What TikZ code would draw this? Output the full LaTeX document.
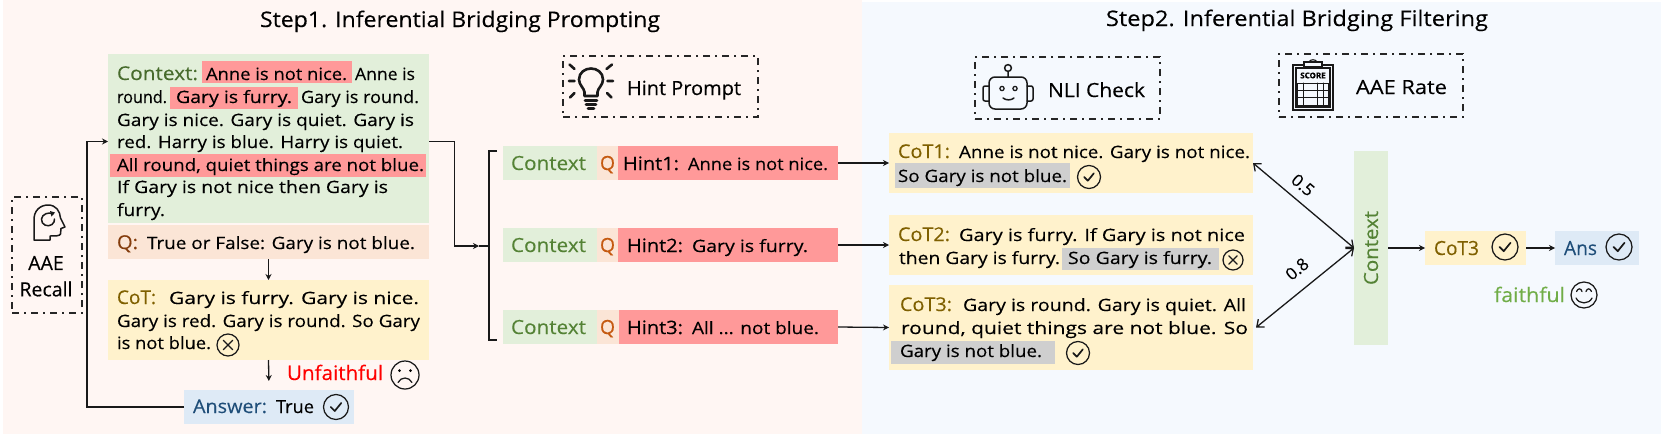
\documentclass[tikz,border=0pt]{standalone}
\usepackage{fontspec}
\setmainfont{Open Sans}[FakeBold=0.25]
\usetikzlibrary{arrows.meta,calc}
\definecolor{bgL}{HTML}{FFF6F3}
\definecolor{bgR}{HTML}{F5F9FE}
\definecolor{cGreen}{HTML}{E2EFDA}
\definecolor{cOrange}{HTML}{FBE5D6}
\definecolor{cYellow}{HTML}{FFF2CC}
\definecolor{cBlue}{HTML}{DEEAF6}
\definecolor{cRed}{HTML}{FF9999}
\definecolor{cGrey}{HTML}{CFCFCF}
\definecolor{tGreenD}{HTML}{476B2C}
\definecolor{tGreen}{HTML}{548235}
\definecolor{tBrown}{HTML}{843C0C}
\definecolor{tOrange}{HTML}{C55A11}
\definecolor{tGold}{HTML}{7F6000}
\definecolor{tNavy}{HTML}{1F4E79}
\definecolor{tLight}{HTML}{70AD47}
\newcommand\bodyf{\fontsize{17}{20}\selectfont}
\newcommand\bigf{\fontsize{19.5}{22}\selectfont}
\newcommand\titlef{\fontsize{21.5}{24}\selectfont}
\newsavebox\fitsave
\newcount\txcount
% \fitw{width}{text}: text set to an exact width by horizontal scaling
\newcommand\fitw[2]{\sbox\fitsave{#2}\pgfmathsetmacro\fitr{#1/\the\wd\fitsave}\scalebox{\fitr}[1]{\usebox\fitsave}}
% \tx[font]{x}{baseline}{width}{colour}{text}
\newcommand\tx[6][\bodyf]{\global\advance\txcount by 1
  \node[lbl,text=#5] (t\the\txcount) at (#2,#3) {\fitw{#4}{#1#6}};}
% \bx{name}{fill}{x1}{y1}{x2}{y2}
\newcommand\bx[6]{\node[panel,fill=#2,minimum width={(#5-#3)*1pt},minimum height={(#6-#4)*1pt}] (#1) at (#3,#4) {};}
\newcommand\dbx[5]{\node[dashbox,minimum width={(#4-#2)*1pt},minimum height={(#5-#3)*1pt}] (#1) at (#2,#3) {};}
\newcommand\chk[3]{\draw[icon] (#1,#2) circle[radius=#3];
  \draw[icon,line width=1.7pt,line join=round] ($(#1,#2)+(-.42*#3,0)$) -- ($(#1,#2)+(-.1*#3,.32*#3)$) -- ($(#1,#2)+(.42*#3,-.32*#3)$);}
\newcommand\crs[3]{\draw[icon] (#1,#2) circle[radius=#3];
  \draw[icon] ($(#1,#2)+(-.42*#3,-.42*#3)$) -- ($(#1,#2)+(.42*#3,.42*#3)$) ($(#1,#2)+(-.42*#3,.42*#3)$) -- ($(#1,#2)+(.42*#3,-.42*#3)$);}
\tikzset{
  x=1pt,y=-1pt,
  lbl/.style={anchor=base west,inner sep=0pt,outer sep=0pt},
  panel/.style={anchor=north west,inner sep=0pt,outer sep=0pt,draw=none},
  dashbox/.style={anchor=north west,inner sep=0pt,outer sep=0pt,draw=black!85,line width=1.1pt,dash pattern=on 7pt off 5pt on 2pt off 5pt},
  conn/.style={draw=black!90,line width=1.3pt,-{Stealth[length=6pt,width=6pt]}},
  dbl/.style={draw=black!90,line width=1.3pt,{Straight Barb[length=6pt,width=10pt]}-{Straight Barb[length=6pt,width=10pt]}},
  icon/.style={draw=black!90,line width=1.25pt,line cap=round},
  iconb/.style={draw=black!90,line width=2.6pt,line cap=round},
}
\begin{document}
\begin{tikzpicture}
\useasboundingbox (0,0) rectangle (1661,434);
\fill[bgL] (3,0) rectangle (862,434);
\fill[bgR] (862,2) rectangle (1661,434);
% titles
\tx[\titlef]{260}{27}{400}{black}{Step1. Inferential Bridging Prompting}
\tx[\titlef]{1106}{26}{382}{black}{Step2. Inferential Bridging Filtering}
% left column boxes
\bx{ctx}{cGreen}{108}{54}{429}{223}
\bx{qbox}{cOrange}{108}{225}{429}{259}
\bx{cotbox}{cYellow}{108}{280}{429}{360}
\bx{ans}{cBlue}{184}{390}{354}{424}
\bx{hlA}{cRed}{202}{61}{352}{83}
\bx{hlB}{cRed}{170}{87}{298}{109}
\bx{hlC}{cRed}{110}{154}{426}{177}
% context text
\tx[\fontsize{19}{22}\selectfont]{117}{80}{81}{tGreenD}{Context:}
\tx{206}{80}{141}{black}{Anne is not nice.}
\tx{355}{80}{60}{black}{Anne is}
\tx{117}{103}{50}{black}{round.}
\tx{176}{103}{116}{black}{Gary is furry.}
\tx{301}{103}{118}{black}{Gary is round.}
\tx{117}{126}{297}{black}{Gary is nice. Gary is quiet. Gary is}
\tx{117}{148}{286}{black}{red. Harry is blue. Harry is quiet.}
\tx{117}{171}{307}{black}{All round, quiet things are not blue.}
\tx{117}{193}{271}{black}{If Gary is not nice then Gary is}
\tx{117}{216}{48}{black}{furry.}
% question
\tx[\fontsize{19}{22}\selectfont]{117}{249}{21}{tBrown}{Q:}
\tx{147}{249}{268}{black}{True or False: Gary is not blue.}
% cot
\tx[\fontsize{19}{22}\selectfont]{117}{304}{39}{tGold}{CoT:}
\tx{169}{304}{250}{black}{Gary is furry. Gary is nice.}
\tx{117}{327}{303}{black}{Gary is red. Gary is round. So Gary}
\tx{117}{349}{94}{black}{is not blue.}
\crs{228}{345}{11}
\tx[\fontsize{20}{22}\selectfont]{287}{380}{96}{red}{Unfaithful}
% sad face
\draw[icon] (405,375) circle[radius=14];
\fill (399.5,370.5) circle[radius=1.5] (410.5,370.5) circle[radius=1.5];
\draw[icon] (398,382.5) .. controls (401,376.5) and (409,376.5) .. (412,382.5);
% answer
\tx[\fontsize{19}{22}\selectfont]{193}{413}{74}{tNavy}{Answer:}
\tx[\fontsize{18}{22}\selectfont]{276}{413}{38}{black}{True}
\chk{336}{407}{12.5}
% AAE recall
\dbx{recall}{12}{197}{82}{313}
\draw[icon,line width=1.5pt,line join=round] (34,240) -- (34,222) .. controls (33,210) and (41,205) .. (48,205) .. controls (56,205) and (60,211) .. (60.5,218) -- (65,227) -- (61,228.5) -- (60.5,234) .. controls (60,236) and (55,236) .. (50,236) -- (50,240) -- cycle;
\draw[icon,line width=1.5pt] (53,214) .. controls (49,211.5) and (42,214) .. (41.5,219) .. controls (41,225) and (48,227.5) .. (52,224.5) .. controls (54,223) and (54.5,221) .. (54.5,219);
\fill[black!90] (50,211) -- (55,212.5) -- (51.5,216.5) -- cycle;
\node[inner sep=0pt] (aaeA) at (46,263) {\bigf AAE};
\node[inner sep=0pt] (aaeB) at (46,289) {\bigf Recall};
% connectors, left
\coordinate (ctxIn) at (108,141.5);
\coordinate (busL) at (87,141.5);
\coordinate (ctxOut) at (429,141.5);
\coordinate (busR) at (454.5,246);
\coordinate (brkTip) at (479,246);
\draw[conn] (ans.west) -| (busL) -- (ctxIn);
\draw[conn] (ctxOut) -| (busR) -- (brkTip);
\draw[conn] (qbox.south) -- (cotbox.north);
\draw[conn,shorten >=9pt] (cotbox.south) -- (ans.north);
\draw[draw=black!90,line width=1.3pt] (497,151) -- (489,151) -- (489,340) -- (497,340) (479,246) -- (489,246);
% hint prompt
\dbx{hintp}{563}{56}{758}{117}
\draw[icon,line width=2.6pt,line join=round] (584.5,96) -- (584.5,92) .. controls (584,88) and (579,85) .. (579,79.5) .. controls (579,72.5) and (585,68.5) .. (591,68.5) .. controls (597,68.5) and (603,72.5) .. (603,79.5) .. controls (603,85) and (598,88) .. (597.5,92) -- (597.5,96) -- cycle;
\draw[iconb] (585,100.5) -- (597,100.5) (586,104.5) -- (596,104.5) (588,108.5) -- (594,108.5);
\draw[iconb] (569,81) -- (574.5,81) (607.5,81) -- (613,81) (569.5,64.5) -- (574.5,69) (612,64.5) -- (606.5,69) (574.5,93) -- (570,97.5) (607,93) -- (611.5,97.5);
\tx[\bigf]{627}{95}{114}{black}{Hint Prompt}
% hint rows
\bx{c1}{cGreen}{503}{146}{597}{180}\bx{q1}{cOrange}{597}{146}{618}{180}\bx{h1}{cRed}{618}{146}{838}{180}
\bx{c2}{cGreen}{503}{228}{597}{262}\bx{q2}{cOrange}{597}{228}{618}{262}\bx{h2}{cRed}{618}{228}{838}{262}
\bx{c3}{cGreen}{503}{310}{597}{344}\bx{q3}{cOrange}{597}{310}{619}{344}\bx{h3}{cRed}{619}{310}{838}{344}
\tx[\bigf]{511}{170}{75}{tGreen}{Context}
\tx[\bigf]{600}{170}{15}{tOrange}{Q}
\tx[\fontsize{18.5}{22}\selectfont]{623}{170}{56}{black}{Hint1:}
\tx{688}{170}{140}{black}{Anne is not nice.}
\tx[\bigf]{511}{252}{75}{tGreen}{Context}
\tx[\bigf]{600}{252}{15}{tOrange}{Q}
\tx[\fontsize{18.5}{22}\selectfont]{627}{252}{56}{black}{Hint2:}
\tx{692}{252}{116}{black}{Gary is furry.}
\tx[\bigf]{511}{334}{75}{tGreen}{Context}
\tx[\bigf]{600}{334}{15}{tOrange}{Q}
\tx[\fontsize{18.5}{22}\selectfont]{627}{334}{56}{black}{Hint3:}
\tx{692}{334}{127}{black}{All ... not blue.}
% NLI
\dbx{nli}{975}{57}{1160}{119}
\draw[icon,line width=1.5pt,rounded corners=6pt] (989,77) rectangle (1027,109);
\draw[icon,line width=1.5pt,rounded corners=2pt] (989,86) -- (983,86) -- (983,101) -- (989,101) (1027,86) -- (1033,86) -- (1033,101) -- (1027,101);
\draw[icon,line width=1.5pt] (1008,68) circle[radius=3.4] (1008,71.4) -- (1008,77);
\draw[icon] (1002,88.5) circle[radius=2.1] (1015,88.5) circle[radius=2.1];
\draw[icon,line width=1.5pt] (1003,98) .. controls (1006,100.5) and (1011,100.5) .. (1014,98);
\tx[\bigf]{1048}{97}{97}{black}{NLI Check}
% AAE rate
\dbx{rate}{1279}{54}{1463}{117}
\draw[icon,line width=1.3pt] (1293,65) rectangle (1333,110) (1296,68) rectangle (1330,107);
\draw[icon,line width=1.2pt,fill=bgR] (1304,62) rectangle (1322,67);
\draw[icon,line width=1.1pt] (1309,62) .. controls (1310,59) and (1316,59) .. (1317,62);
\node[inner sep=0pt] (scoreT) at (1313,75.5) {\fontsize{8}{9}\selectfont\bfseries SCORE};
\draw[icon,line width=1pt] (1297.5,83) rectangle (1328.5,105) (1297.5,90) -- (1328.5,90) (1297.5,97.5) -- (1328.5,97.5) (1303.5,83) -- (1303.5,105) (1317,83) -- (1317,105) (1323,83) -- (1323,105);
\tx[\bigf]{1356}{94}{91}{black}{AAE Rate}
% CoT boxes
\bx{cot1}{cYellow}{889}{133}{1253}{193}
\bx{cot2}{cYellow}{889}{215}{1253}{275}
\bx{cot3}{cYellow}{889}{285}{1253}{370}
\bx{g1}{cGrey}{895}{163}{1070}{188}
\bx{g2}{cGrey}{1062}{248}{1219}{270}
\bx{g3}{cGrey}{891}{341}{1055}{364}
\tx[\fontsize{19}{22}\selectfont]{898}{158}{52}{tGold}{CoT1:}
\tx{959}{158}{291}{black}{Anne is not nice. Gary is not nice.}
\tx{898}{182}{169}{black}{So Gary is not blue.}
\chk{1089}{177}{11.5}
\tx[\fontsize{19}{22}\selectfont]{898}{241}{52}{tGold}{CoT2:}
\tx{959}{241}{286}{black}{Gary is furry. If Gary is not nice}
\tx{899}{264}{161}{black}{then Gary is furry.}
\tx{1068}{264}{144}{black}{So Gary is furry.}
\crs{1233}{260}{10}
\tx[\fontsize{19}{22}\selectfont]{900}{311}{52}{tGold}{CoT3:}
\tx{963}{311}{283}{black}{Gary is round. Gary is quiet. All}
\tx{901}{334}{347}{black}{round, quiet things are not blue. So}
\tx{900}{357}{142}{black}{Gary is not blue.}
\chk{1078}{353}{11.5}
% right part
\bx{ctxV}{cGreen}{1354}{151}{1388}{345}
\node[inner sep=0pt,rotate=90,text=tGreen] (ctxVt) at (1371,248) {\fitw{74}{\bigf Context}};
\bx{res}{cYellow}{1425}{231}{1526}{265}
\bx{fin}{cBlue}{1555}{231}{1639}{265}
\tx[\bigf]{1434}{255}{45}{tGold}{CoT3}
\chk{1505}{247}{13}
\tx[\bigf]{1564}{255}{33}{tNavy}{Ans}
\chk{1619}{247}{13}
\tx[\fontsize{20}{22}\selectfont]{1494}{302}{71}{tLight}{faithful}
\draw[icon] (1584,295) circle[radius=13];
\draw[icon] (1576.5,291.5) .. controls (1578,288) and (1581,288) .. (1582,291.5) (1586,291.5) .. controls (1587,288) and (1590,288) .. (1591.5,291.5);
\draw[icon] (1576,298) .. controls (1579,304.5) and (1589,304.5) .. (1592,298);
% connectors, right
\draw[conn] (h1.east) -- (cot1.west);
\draw[conn] (h2.east) -- (cot2.west);
\draw[conn] (h3.east) -- (cot3.west);
\draw[dbl] (ctxV.west) -- (cot1.east);
\draw[dbl] (ctxV.west) -- ([xshift=3pt]cot3.east);
\draw[conn] (ctxV.east) -- (res.west);
\draw[conn] (res.east) -- (fin.west);
\node[inner sep=0pt,rotate=-40] (w1) at (1303,185) {\fontsize{17}{18}\selectfont 0.5};
\node[inner sep=0pt,rotate=40] (w2) at (1297,269) {\fontsize{17}{18}\selectfont 0.8};
\end{tikzpicture}
\end{document}
